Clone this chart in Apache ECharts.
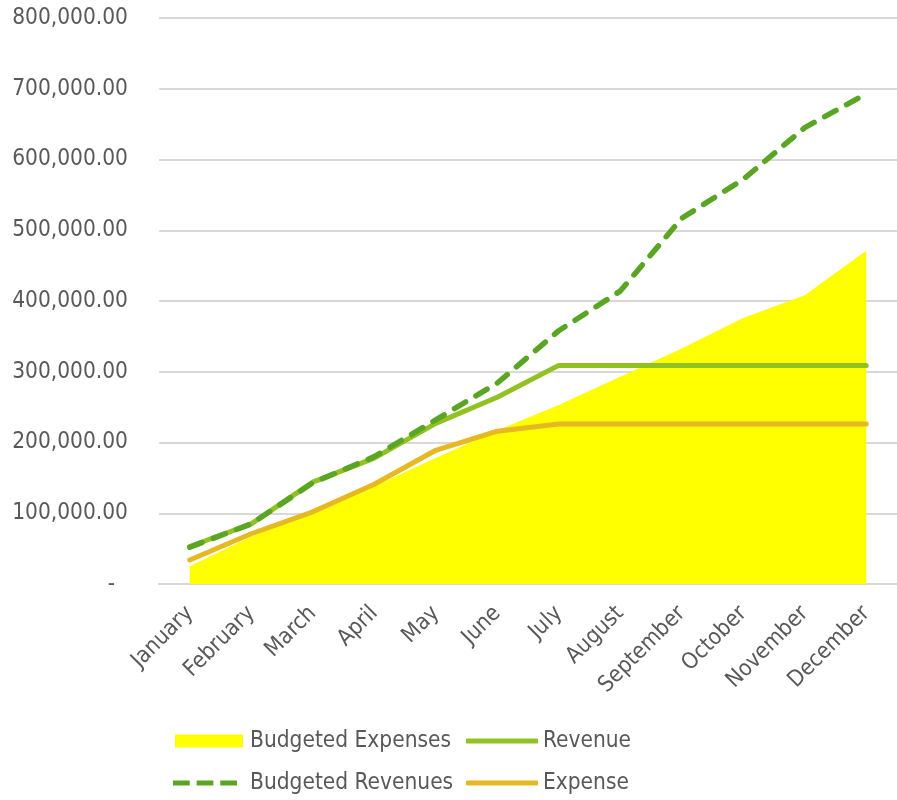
<!DOCTYPE html>
<html>
<head>
<meta charset="utf-8">
<script src="https://cdn.jsdelivr.net/npm/echarts@6/dist/echarts.min.js"></script>
<style>
html,body{margin:0;padding:0;background:#fff;}
#chart{width:897px;height:800px;}
</style>
</head>
<body>
<div id="chart"></div>
<script>
const months = ['January','February','March','April','May','June','July','August','September','October','November','December'];
const budgetedExpenses = [25000, 67000, 101000, 138000, 178000, 217000, 253000, 293000, 333000, 376000, 408000, 471000];
const revenue = [53000, 85000, 144000, 178000, 227000, 264000, 309000, 309000, 309000, 309000, 309000, 309000];
const budgetedRevenues = [52000, 85000, 143000, 180000, 232000, 284000, 358000, 414000, 517000, 572000, 645000, 693000];
const expense = [34000, 71000, 102000, 141000, 189000, 216000, 226000, 226000, 226000, 226000, 226000, 226000];

const FONT = '"DejaVu Sans Condensed", "DejaVu Sans", sans-serif';
const TXT = '#595959';
const FS = 22.5;
const chart = echarts.init(document.getElementById('chart'));

function fmt(v){
  if (v === 0) return '-  ';
  return v.toLocaleString('en-US',{minimumFractionDigits:2, maximumFractionDigits:2});
}

function legendAt(left, top, item, w, h, padLeft){
  return {
    orient: 'horizontal', left: left, top: top, padding: 0,
    itemWidth: w, itemHeight: h,
    data: [item],
    textStyle: {fontFamily: FONT, fontSize: FS, color: TXT, lineHeight: 24, padding: [0,0,0,padLeft]}
  };
}

const dashIcon = 'path://M0,0h17v5h-17z M24,0h17v5h-17z M48,0h17v5h-17z';

chart.setOption({
  animation: false,
  backgroundColor: '#fff',
  grid: {left: 159, right: 0, top: 18, bottom: 216, containLabel: false},
  legend: [
    legendAt(175, 729, {name:'Budgeted Expenses', icon:'rect'}, 68, 13, 2),
    legendAt(466, 729, {name:'Revenue', icon:'roundRect'}, 72, 5, 0),
    legendAt(173, 771, {name:'Budgeted Revenues', icon: dashIcon}, 64, 5, 8),
    legendAt(466, 771, {name:'Expense', icon:'roundRect'}, 72, 5, 0)
  ],
  xAxis: {
    type: 'category',
    data: months,
    boundaryGap: true,
    axisLine: {lineStyle: {color: '#D9D9D9', width: 2}},
    axisTick: {show: false},
    axisLabel: {rotate: 45, fontFamily: FONT, fontSize: FS, color: TXT, margin: 26, interval: 0}
  },
  yAxis: {
    type: 'value',
    min: 0, max: 800000, interval: 100000,
    axisLine: {show: false},
    axisTick: {show: false},
    splitLine: {lineStyle: {color: '#D9D9D9', width: 2}},
    axisLabel: {fontFamily: FONT, fontSize: FS, color: TXT, margin: 31, formatter: fmt}
  },
  series: [
    {
      name: 'Budgeted Expenses', type: 'line', data: budgetedExpenses,
      symbol: 'none', itemStyle: {color: '#FFFF00'},
      lineStyle: {width: 0, color: '#FFFF00'},
      areaStyle: {color: '#FFFF00', opacity: 1}, z: 1
    },
    {
      name: 'Revenue', type: 'line', data: revenue, symbol: 'none',
      itemStyle: {color: '#92C123'},
      lineStyle: {width: 5, color: '#92C123', cap: 'round', join: 'round'}, z: 2
    },
    {
      name: 'Expense', type: 'line', data: expense, symbol: 'none',
      itemStyle: {color: '#E6B822'},
      lineStyle: {width: 5, color: '#E6B822', cap: 'round', join: 'round'}, z: 3
    },
    {
      name: 'Budgeted Revenues', type: 'line', data: budgetedRevenues, symbol: 'none',
      itemStyle: {color: '#5AA524'},
      lineStyle: {width: 5.5, color: '#5AA524', type: [13, 12], cap: 'round', join: 'round'}, z: 4
    }
  ]
});
</script>
</body>
</html>
